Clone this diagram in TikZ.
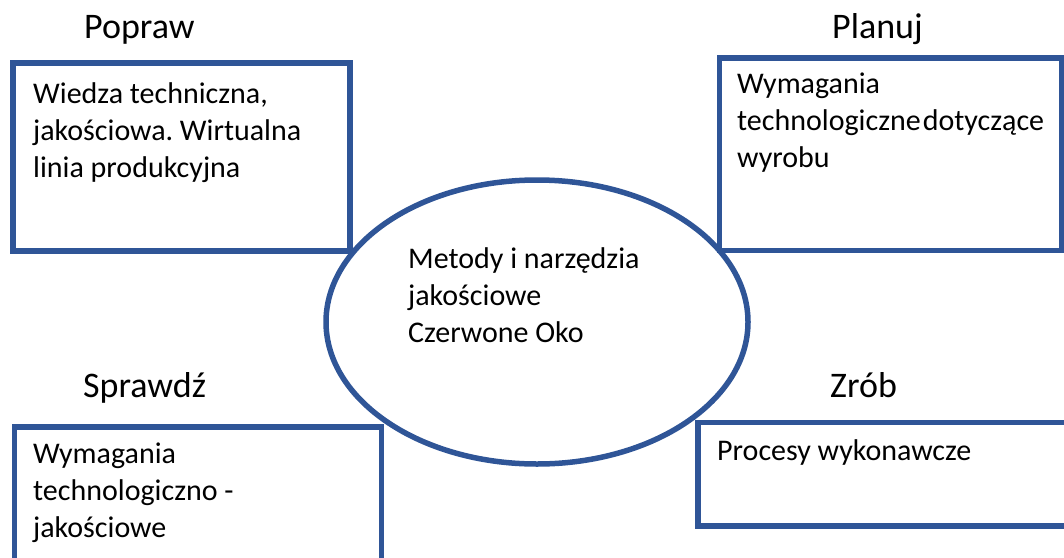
\documentclass[tikz,border=0pt]{standalone}
\usepackage{fontspec}
\setmainfont{Carlito}
\usetikzlibrary{shapes.geometric}
\definecolor{niebieski}{RGB}{47,85,151}
\newcommand\pierwsza{\rule{0pt}{24pt}}
\frenchspacing

\begin{document}
\begin{tikzpicture}[x=1pt,y=-1pt,
  ramka/.style={draw=niebieski, line width=5.5pt, inner sep=0, outer sep=0, anchor=north west},
  tytul/.style={font=\fontsize{36}{43}\selectfont, anchor=base west, inner sep=0},
  opis/.style={font=\fontsize{30}{37}\selectfont, anchor=north west, inner sep=0, align=left}]
\useasboundingbox (0,0) rectangle (1064,557);

% ramki
\node[ramka, minimum width=337pt, minimum height=188pt] (popraw) at (13,63) {};
\node[ramka, minimum width=342.5pt, minimum height=192.5pt] (planuj) at (719.5,58) {};
\node[ramka, minimum width=367pt, minimum height=200pt] (sprawdz) at (14.5,427) {};
\node[ramka, minimum width=400pt, minimum height=103.5pt] (zrob) at (698,422.5) {};
\node[draw=niebieski, line width=5.5pt, ellipse, inner sep=0, outer sep=0,
      minimum width=422pt, minimum height=284pt] (metody) at (537,322) {};

% tytuly
\node[tytul] (t-popraw) at (84,38) {Popraw};
\node[tytul] (t-planuj) at (832,38) {Planuj};
\node[tytul] (t-sprawdz) at (83,397) {Sprawdź};
\node[tytul] (t-zrob) at (830,397) {Zrób};

% opisy
\node[opis] (o-popraw) at (33,79) {\pierwsza Wiedza techniczna,\\jakościowa. Wirtualna\\linia produkcyjna};
\node[opis] (o-planuj) at (737,69) {\pierwsza Wymagania\\technologiczne\hspace{2pt}dotyczące\\wyrobu};
\node[opis] (o-sprawdz) at (33,439) {\pierwsza Wymagania\\technologiczno -\\jakościowe};
\node[opis] (o-zrob) at (717,436) {\pierwsza Procesy wykonawcze};
\node[opis] (o-metody) at (408,244) {\pierwsza Metody i narzędzia\\jakościowe\\Czerwone Oko};
\end{tikzpicture}
\end{document}
